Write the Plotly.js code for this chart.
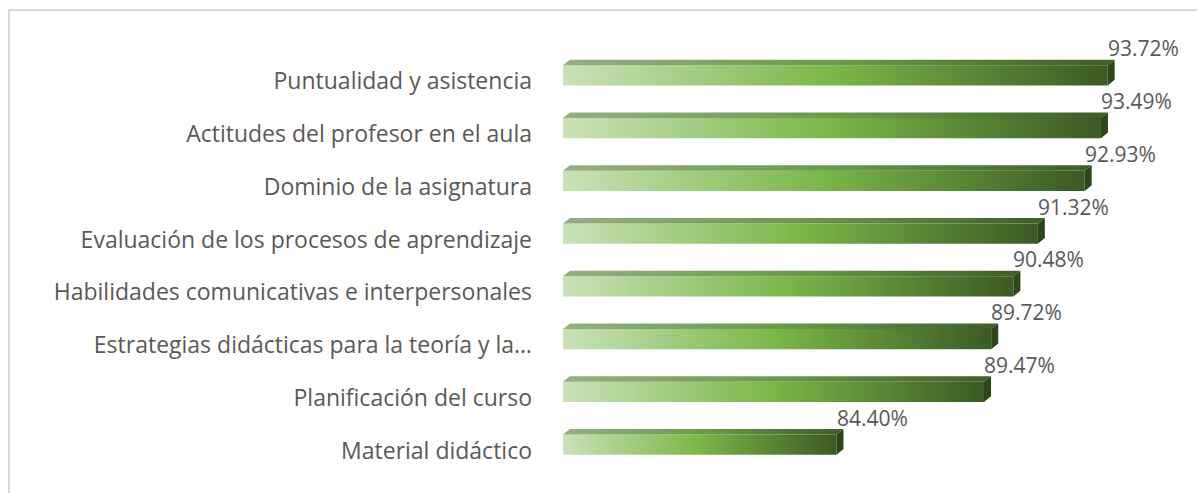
<!DOCTYPE html>
<html>
<head>
<meta charset="utf-8">
<script src="https://cdn.plot.ly/plotly-3.0.1.min.js"></script>
<style>
  html, body { margin: 0; padding: 0; background: #ffffff; }
  #frame { position: absolute; left: 8px; top: 9px; width: 1300px; height: 600px;
           border-left: 2px solid #d9d9d9; border-top: 2px solid #d9d9d9; }
  #chart { position: absolute; left: 0; top: 0; width: 1197px; height: 493px; }
</style>
</head>
<body>
<div id="frame"></div>
<div id="chart"></div>
<script>
// ---- data (top to bottom) ----
const categories = [
  "Puntualidad y asistencia",
  "Actitudes del profesor en el aula",
  "Dominio de la asignatura",
  "Evaluación de los procesos de aprendizaje",
  "Habilidades comunicativas e interpersonales",
  "Estrategias didácticas para la teoría y la…",
  "Planificación del curso",
  "Material didáctico"
];
const values = [93.72, 93.49, 92.93, 91.32, 90.48, 89.72, 89.47, 84.40];
const valueLabels = ["93.72%", "93.49%", "92.93%", "91.32%", "90.48%", "89.72%", "89.47%", "84.40%"];

// ---- style ----
const axisMin = 75, axisMax = 96;
const half = 0.19;      // half bar thickness (category units)
const dx = 0.24;        // 3D depth in x (value units)
const dy = 0.105;       // 3D depth in y (category units)
const frontScale = [[0, '#c9e2b8'], [0.5, '#7ab648'], [1, '#3b5a24']];
const topScale = [[0, '#96ae86'], [0.5, '#6b9a4a'], [1, '#3f5d29']];
const sideColor = '#2c4719';
const textColor = '#595959';
const fontFamily = '"Open Sans", "Noto Sans", sans-serif';

const traces = [];
values.forEach((v, i) => {
  const yt = i - half, yb = i + half;
  // front face
  traces.push({
    type: 'scatter', mode: 'lines', fill: 'toself', hoverinfo: 'skip', showlegend: false,
    x: [axisMin, v, v, axisMin, axisMin],
    y: [yt, yt, yb, yb, yt],
    line: { width: 0 },
    fillgradient: { type: 'horizontal', colorscale: frontScale }
  });
  // top face
  traces.push({
    type: 'scatter', mode: 'lines', fill: 'toself', hoverinfo: 'skip', showlegend: false,
    x: [axisMin, axisMin + dx, v + dx, v, axisMin],
    y: [yt, yt - dy, yt - dy, yt, yt],
    line: { width: 0 },
    fillgradient: { type: 'horizontal', colorscale: topScale }
  });
  // side face
  traces.push({
    type: 'scatter', mode: 'lines', fill: 'toself', hoverinfo: 'skip', showlegend: false,
    x: [v, v + dx, v + dx, v, v],
    y: [yt, yt - dy, yb - dy, yb, yt],
    line: { width: 0 },
    fillcolor: sideColor
  });
});

const annotations = values.map((v, i) => ({
  x: v, y: i, xref: 'x', yref: 'y',
  text: valueLabels[i], showarrow: false,
  xanchor: 'left', yanchor: 'middle', xshift: -2, yshift: 27,
  font: { family: fontFamily, size: 21, color: textColor }
}));

const layout = {
  width: 1197, height: 493,
  margin: { l: 563, r: 23, t: 49, b: 22 },
  paper_bgcolor: 'rgba(0,0,0,0)',
  plot_bgcolor: 'rgba(0,0,0,0)',
  showlegend: false,
  xaxis: { range: [axisMin, axisMax], visible: false, fixedrange: true },
  yaxis: {
    range: [7.5, -0.5],
    tickvals: categories.map((c, i) => i),
    ticktext: categories,
    showgrid: false, zeroline: false, showline: false, ticks: '',
    ticklabelstandoff: 30,
    ticklabelshift: -6,
    tickfont: { family: fontFamily, size: 23, color: textColor },
    fixedrange: true
  },
  annotations: annotations
};

Plotly.newPlot('chart', traces, layout, { displayModeBar: false, staticPlot: true });
</script>
</body>
</html>
